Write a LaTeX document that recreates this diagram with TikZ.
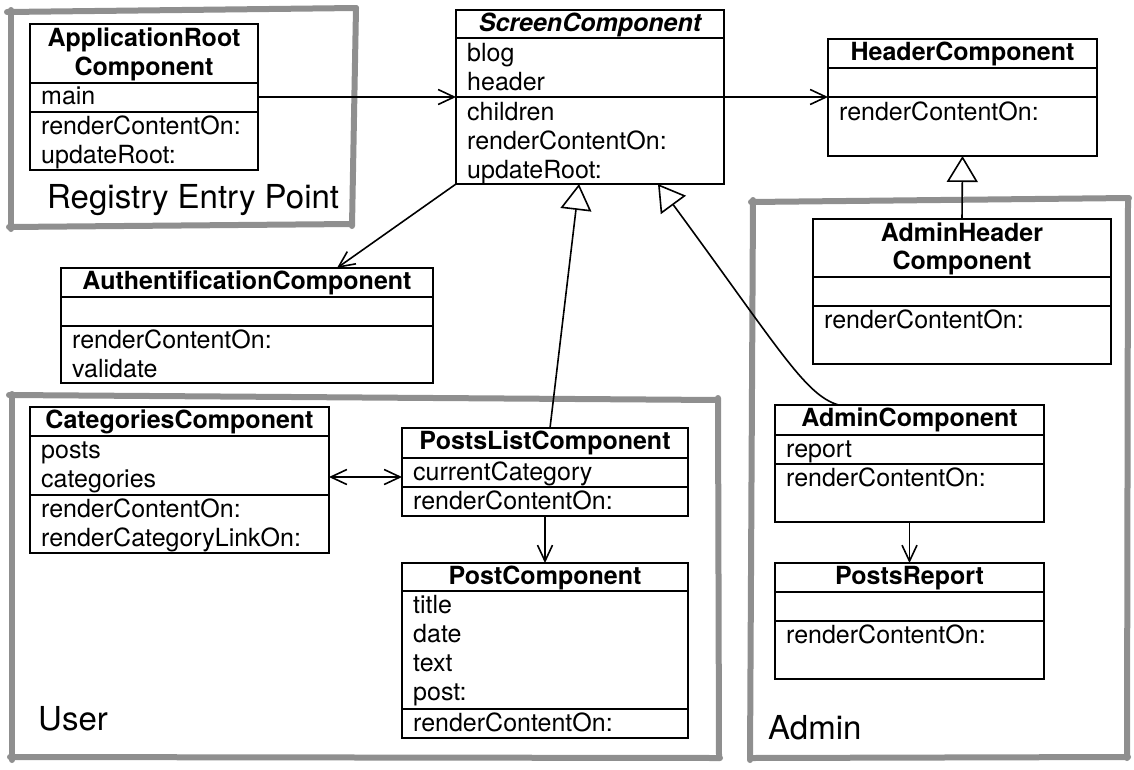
\documentclass[tikz,border=0pt]{standalone}
\usepackage{fontspec}
\setmainfont{TeX Gyre Heros}
\usetikzlibrary{arrows.meta}

\definecolor{framegray}{RGB}{143,143,143}

\tikzset{
  clsbox/.style={draw, line width=2pt, fill=white, inner sep=0pt, outer sep=0pt, anchor=north west},
  clsline/.style={line width=1.8pt},
  member/.style={inner sep=0pt, anchor=base west, font=\fontsize{25}{29}\selectfont},
  clstitle/.style={inner sep=0pt, anchor=base, font=\fontsize{25}{29}\selectfont\bfseries},
  grouplbl/.style={inner sep=0pt, anchor=base west, font=\fontsize{33}{38}\selectfont},
  groupframe/.style={draw=framegray, line width=6pt, line cap=round},
  assoc/.style={line width=1.6pt, -{Straight Barb[length=16pt,width=15pt,line width=1.6pt]}},
  biassoc/.style={line width=1.6pt, {Straight Barb[length=16pt,width=15pt,line width=1.6pt]}-{Straight Barb[length=16pt,width=15pt,line width=1.6pt]}},
  gen/.style={line width=1.6pt, -{Triangle[length=26pt,width=31pt,line width=1.6pt,fill=white]}}
}

% class box: name, left, top, width, height
\newcommand\umlbox[5]{\node[clsbox, minimum width=#4pt, minimum height=#5pt] (#1) at (#2,#3) {};}
% compartment separator: box name, offset from top
\newcommand\divline[2]{\draw[clsline] ([yshift=-#2pt]#1.north west) -- ([yshift=-#2pt]#1.north east);}
% member line: box name, baseline offset from top, text
\newcommand\member[3]{\node[member] (#1-m#2) at ([xshift=11pt,yshift=-#2pt]#1.north west) {#3};}
% class name line: box name, baseline offset from top, text
\newcommand\clsname[3]{\node[clstitle] (#1-t#2) at ([yshift=-#2pt]#1.north) {#3};}

\begin{document}
\begin{tikzpicture}[x=1pt,y=-1pt]
\useasboundingbox (0,0) rectangle (1134,769);

% ---- package frames ----
\draw[groupframe] (7,12) -- (356,8);
\draw[groupframe] (11,10) -- (11,229);
\draw[groupframe] (9,227) -- (352,224);
\draw[groupframe] (356,8) -- (352,226);

\draw[groupframe] (9,395) -- (718,400);
\draw[groupframe] (12,394) -- (12,760);
\draw[groupframe] (10,757) -- (720,758);
\draw[groupframe] (718,398) -- (719,758);

\draw[groupframe] (751,202) -- (1129,198);
\draw[groupframe] (753,200) -- (750,760);
\draw[groupframe] (750,758) -- (1128,757);
\draw[groupframe] (1128,198) -- (1127,758);

\node[grouplbl] (lblregistry) at (47,208) {Registry Entry Point};
\node[grouplbl] (lbluser) at (38,730) {User};
\node[grouplbl] (lbladmin) at (768,739) {Admin};

% ---- ApplicationRootComponent ----
\umlbox{approot}{30}{24}{228}{146}
\clsname{approot}{22}{ApplicationRoot}
\clsname{approot}{51}{Component}
\divline{approot}{59}
\divline{approot}{88}
\member{approot}{80}{main}
\member{approot}{110}{renderContentOn:}
\member{approot}{139}{updateRoot:}

% ---- ScreenComponent ----
\umlbox{screen}{456}{10}{268}{174}
\node[clstitle, font=\fontsize{25}{29}\selectfont\bfseries\itshape] (screen-t21) at ([yshift=-21pt]screen.north) {ScreenComponent};
\divline{screen}{28}
\divline{screen}{87}
\member{screen}{51}{blog}
\member{screen}{80}{header}
\member{screen}{110}{children}
\member{screen}{139}{renderContentOn:}
\member{screen}{168}{updateRoot:}

% ---- HeaderComponent ----
\umlbox{header}{828}{39}{269}{117}
\clsname{header}{21}{HeaderComponent}
\divline{header}{29}
\divline{header}{58}
\member{header}{81}{renderContentOn:}

% ---- AdminHeaderComponent ----
\umlbox{adminheader}{813}{219}{298}{145}
\clsname{adminheader}{22}{AdminHeader}
\clsname{adminheader}{50}{Component}
\divline{adminheader}{58}
\divline{adminheader}{87}
\member{adminheader}{109}{renderContentOn:}

% ---- AuthentificationComponent ----
\umlbox{auth}{61}{268}{372}{115}
\clsname{auth}{21}{AuthentificationComponent}
\divline{auth}{29}
\divline{auth}{58}
\member{auth}{80}{renderContentOn:}
\member{auth}{109}{validate}

% ---- CategoriesComponent ----
\umlbox{cats}{30}{407}{299}{146}
\clsname{cats}{21}{CategoriesComponent}
\divline{cats}{29}
\divline{cats}{88}
\member{cats}{51}{posts}
\member{cats}{80}{categories}
\member{cats}{110}{renderContentOn:}
\member{cats}{139}{renderCategoryLinkOn:}

% ---- PostsListComponent ----
\umlbox{postslist}{402}{428}{286}{88}
\clsname{postslist}{21}{PostsListComponent}
\divline{postslist}{30}
\divline{postslist}{59}
\member{postslist}{52}{currentCategory}
\member{postslist}{81}{renderContentOn:}

% ---- PostComponent ----
\umlbox{post}{402}{563}{286}{175}
\clsname{post}{21}{PostComponent}
\divline{post}{28}
\divline{post}{146}
\member{post}{50}{title}
\member{post}{79}{date}
\member{post}{108}{text}
\member{post}{137}{post:}
\member{post}{168}{renderContentOn:}

% ---- AdminComponent ----
\umlbox{admin}{775}{405}{269}{117}
\clsname{admin}{21}{AdminComponent}
\divline{admin}{30}
\divline{admin}{59}
\member{admin}{52}{report}
\member{admin}{81}{renderContentOn:}

% ---- PostsReport ----
\umlbox{report}{775}{563}{269}{116}
\clsname{report}{21}{PostsReport}
\divline{report}{29}
\divline{report}{58}
\member{report}{80}{renderContentOn:}

% ---- associations ----
\draw[assoc] (approot.east) -- (screen.west);
\draw[assoc] (screen.east) -- (screen.east -| header.west);
\draw[assoc] (screen.south west) -- ([xshift=90pt]auth.north);
\draw[assoc] (postslist.south) -- (post.north);
\draw[assoc] (admin.south) -- (report.north);
\draw[biassoc] ([yshift=3pt]cats.east) -- ([yshift=3pt]cats.east -| postslist.west);

% ---- generalizations ----
\draw[gen] ([xshift=5pt]postslist.north) -- ([xshift=-11pt]screen.south);
\draw[gen] ([xshift=-71pt]admin.north) .. controls (805,395) and (780,350) .. ([xshift=68pt]screen.south);
\draw[gen] (adminheader.north) -- (header.south);

\end{tikzpicture}
\end{document}
